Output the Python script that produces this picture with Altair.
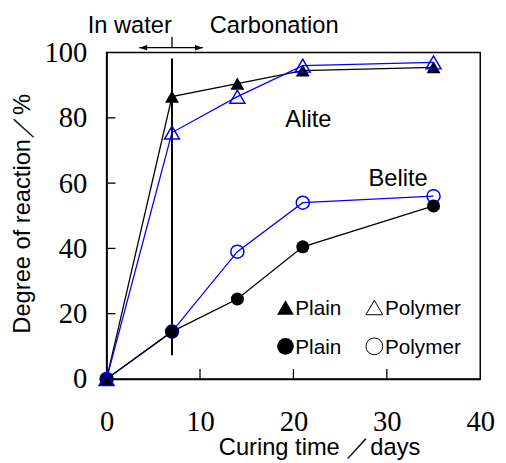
import altair as alt
import pandas as pd

# ---- data ----
days = [0, 7, 14, 21, 35]
alite_plain = [0, 86.5, 90.5, 94.5, 95.5]
alite_polymer = [0, 75.5, 86.5, 96.0, 97.0]
belite_plain = [0, 14.5, 24.5, 40.5, 53.0]
belite_polymer = [0, 14.5, 39.0, 54.0, 56.0]

x_ticks = [0, 10, 20, 30, 40]
y_ticks = [0, 20, 40, 60, 80, 100]

series = {
    "Belite polymer": belite_polymer,
    "Belite plain": belite_plain,
    "Alite plain": alite_plain,
    "Alite polymer": alite_polymer,
}
rows = []
for name, vals in series.items():
    for d, v in zip(days, vals):
        rows.append({"series": name, "day": d, "value": v})
df = pd.DataFrame(rows)

SANS = "Liberation Sans"
SERIF = "Liberation Serif"
W, H = 379, 331

xscale = alt.Scale(domain=[0, 40], nice=False)
yscale = alt.Scale(domain=[0, 100], nice=False)

xax = alt.Axis(values=x_ticks, ticks=False, tickSize=0, grid=False, labelPadding=29,
               labelFlush=False, labelOverlap=False,
               labelFont=SERIF, labelFontSize=29, labelColor="black",
               domainColor="black", domainWidth=1.5,
               title="Curing time ／days", titleFont=SANS, titleFontSize=24,
               titleFontWeight="normal", titleColor="black",
               titleX=215.5, titleY=77, titleAlign="center", titleBaseline="alphabetic")
yax = alt.Axis(values=y_ticks, ticks=False, tickSize=0, grid=False, labelPadding=20,
               labelFlush=False, labelOverlap=False,
               labelFont=SERIF, labelFontSize=29, labelColor="black",
               domainColor="black", domainWidth=1.5,
               title="Degree of reaction／%", titleFont=SANS, titleFontSize=24,
               titleFontWeight="normal", titleColor="black",
               titleX=-85, titleY=163, titleAngle=270, titleAlign="center",
               titleBaseline="middle")

base = alt.Chart(df)

def X(field="day:Q"):
    return alt.X(field, scale=xscale, axis=xax, title="Curing time ／days")

def Y(field="value:Q"):
    return alt.Y(field, scale=yscale, axis=yax, title="Degree of reaction／%")

def XD(v):
    return alt.X(datum=v, scale=xscale, axis=xax, title="Curing time ／days")

def YD(v):
    return alt.Y(datum=v, scale=yscale, axis=yax, title="Degree of reaction／%")

layers = []

# inward ticks
ytick_df = pd.DataFrame({"v": [20, 40, 60, 80]})
xtick_df = pd.DataFrame({"v": [10, 20, 30]})
layers.append(alt.Chart(ytick_df).mark_rule(color="black", strokeWidth=1.3).encode(
    y=Y("v:Q"), x=alt.value(0), x2=alt.value(9)))
layers.append(alt.Chart(xtick_df).mark_rule(color="black", strokeWidth=1.3).encode(
    x=X("v:Q"), y=alt.value(H), y2=alt.value(H - 10)))

# water/carbonation boundary line and arrow
one = pd.DataFrame({"k": [0]})
layers.append(alt.Chart(one).mark_rule(color="black", strokeWidth=2).encode(
    x=XD(7), y=YD(7.25), y2=alt.Y2(datum=98.2)))
layers.append(alt.Chart(one).mark_rule(color="black", strokeWidth=1.3).encode(
    x=XD(7), y=YD(101.5), y2=alt.Y2(datum=104.8)))
layers.append(alt.Chart(one).mark_rule(color="black", strokeWidth=1.3).encode(
    x=XD(3.5), x2=alt.X2(datum=10.3), y=YD(101.5)))
layers.append(alt.Chart(one).mark_point(filled=True, color="black", opacity=1,
                                        shape="M0,0L2,-0.7L2,0.7Z", size=64).encode(
    x=XD(3.5), y=YD(101.5)))
layers.append(alt.Chart(one).mark_point(filled=True, color="black", opacity=1,
                                        shape="M0,0L-2,-0.7L-2,0.7Z", size=64).encode(
    x=XD(10.3), y=YD(101.5)))

# series
style = {
    "Belite polymer": dict(color="#0000ff", shape="circle", filled=False, size=175),
    "Belite plain": dict(color="black", shape="circle", filled=True, size=175),
    "Alite plain": dict(color="black", shape="triangle-up", filled=True, size=200),
    "Alite polymer": dict(color="#0000ff", shape="triangle-up", filled=False, size=230),
}
for name, st in style.items():
    sub = base.transform_filter(alt.datum.series == name)
    layers.append(sub.mark_line(color=st["color"], strokeWidth=1.3).encode(x=X(), y=Y()))
    if st["filled"]:
        pm = sub.mark_point(filled=True, color=st["color"], opacity=1,
                            shape=st["shape"], size=st["size"])
    else:
        pm = sub.mark_point(filled=False, color=st["color"], opacity=1,
                            shape=st["shape"], size=st["size"], strokeWidth=1.5)
    layers.append(pm.encode(x=X(), y=Y()))

# annotations
def label(txt, x, y, size=24, align="center", font=SANS):
    return alt.Chart(one).mark_text(text=txt, font=font, fontSize=size, fill="black",
                                    fontWeight="normal", align=align,
                                    baseline="alphabetic").encode(
        x=XD(x), y=YD(y))

layers.append(label("In water", 2.48, 106.0))
layers.append(label("Carbonation", 17.94, 106.0))
layers.append(label("Alite", 21.6, 77.3))
layers.append(label("Belite", 31.2, 59.2))

# in-plot legend
layers.append(alt.Chart(one).mark_point(filled=True, color="black", opacity=1,
                                        shape="triangle-up", size=289).encode(
    x=XD(19.15), y=YD(21.9)))
layers.append(alt.Chart(one).mark_point(filled=False, color="black", opacity=1,
                                        shape="triangle-up", size=289, strokeWidth=1).encode(
    x=XD(28.66), y=YD(21.9)))
layers.append(alt.Chart(one).mark_point(filled=True, color="black", opacity=1,
                                        shape="circle", size=289).encode(
    x=XD(19.15), y=YD(10.0)))
layers.append(alt.Chart(one).mark_point(filled=False, color="black", opacity=1,
                                        shape="circle", size=289, strokeWidth=1).encode(
    x=XD(28.66), y=YD(10.0)))
layers.append(label("Plain", 20.2, 19.6, size=21, align="left"))
layers.append(label("Polymer", 29.8, 19.6, size=21, align="left"))
layers.append(label("Plain", 20.2, 7.55, size=21, align="left"))
layers.append(label("Polymer", 29.8, 7.55, size=21, align="left"))

chart = alt.layer(*layers).properties(
    width=W, height=H,
    autosize=alt.AutoSizeParams(type="none"),
    padding={"left": 100, "top": 42, "right": 18, "bottom": 81},
    background="white",
).configure_view(stroke="black", strokeWidth=1.5
).configure_axis(labelFont=SERIF, labelFontSize=29, titleFont=SANS)

chart.save("out.html", embed_options={"renderer": "svg", "actions": False})
